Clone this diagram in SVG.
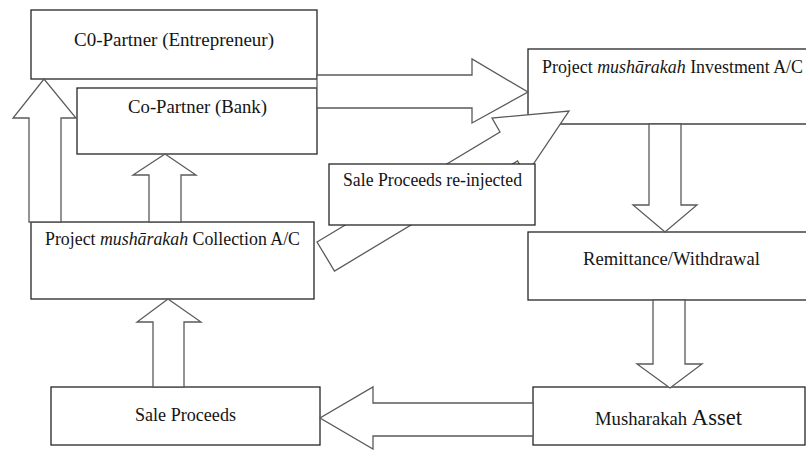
<svg xmlns="http://www.w3.org/2000/svg" width="806" height="450" viewBox="0 0 806 450">
<style>
.box{fill:#fff;stroke:#262626;stroke-width:1.3}
.arr{fill:#fff;stroke:#5a5a5a;stroke-width:1.3;stroke-linejoin:miter}
.t{font-family:"Liberation Serif","Times New Roman",serif;font-size:19px;fill:#151515;text-anchor:middle}
.i{font-style:italic}
</style>
<rect width="806" height="450" fill="#fff"/>
<g id="entrepreneur">
<rect class="box" x="31" y="10" width="286" height="69"/>
<text class="t" x="174" y="46" textLength="200" lengthAdjust="spacingAndGlyphs">C0-Partner (Entrepreneur)</text>
</g>
<g id="bank">
<rect class="box" x="77" y="88" width="240" height="66"/>
<text class="t" x="197.5" y="113" textLength="139" lengthAdjust="spacingAndGlyphs">Co-Partner (Bank)</text>
</g>
<g id="investment">
<rect class="box" x="528" y="49" width="300" height="75"/>
<text class="t" x="542" y="73" style="text-anchor:start" textLength="261" lengthAdjust="spacingAndGlyphs">Project <tspan class="i">mushārakah</tspan> Investment A/C</text>
</g>
<g id="remittance">
<rect class="box" x="528" y="232" width="290" height="68"/>
<text class="t" x="671.5" y="265" textLength="177" lengthAdjust="spacingAndGlyphs">Remittance/Withdrawal</text>
</g>
<g id="asset">
<rect class="box" x="533" y="387" width="272" height="58"/>
<text class="t" x="668.5" y="425" textLength="147" lengthAdjust="spacingAndGlyphs"><tspan>Musharakah </tspan><tspan style="font-size:23px">Asset</tspan></text>
</g>
<g id="sale-proceeds">
<rect class="box" x="51" y="387" width="269" height="58"/>
<text class="t" x="185.5" y="421" textLength="101" lengthAdjust="spacingAndGlyphs">Sale Proceeds</text>
</g>
<g id="collection">
<rect class="box" x="31" y="222" width="283" height="77"/>
<text class="t" x="172.5" y="245" textLength="255" lengthAdjust="spacingAndGlyphs">Project <tspan class="i">mushārakah</tspan> Collection A/C</text>
</g>
<g id="connectors">
<polygon class="arr" points="317,75 472,75 472,59 528,92 472,123 472,108 317,108"/>
<polygon class="arr" points="649,124 681,124 681,205 697,205 665,232 633,205 649,205"/>
<polygon class="arr" points="653,300 685,300 685,364 702,364 670,388 637,364 653,364"/>
<polygon class="arr" points="533,403 373,403 373,387 320,418 373,449 373,436 533,436"/>
<polygon class="arr" points="153,387 153,322 137,322 168,299 201,322 184,322 184,387"/>
<polygon class="arr" points="149,222 149,175 133,175 165,154 196,175 181,175 181,222"/>
<polygon class="arr" points="29,222 29,118 13,118 44,79 76,118 61,118 61,222"/>
<polygon class="arr" points="317,242 500,132 492,118 569,111 526,175 517.5,161 334.5,271"/>
</g>
<g id="reinjected">
<rect class="box" x="329" y="164" width="206" height="61"/>
<text class="t" x="432.5" y="186" textLength="179" lengthAdjust="spacingAndGlyphs">Sale Proceeds re-injected</text>
</g>
</svg>
